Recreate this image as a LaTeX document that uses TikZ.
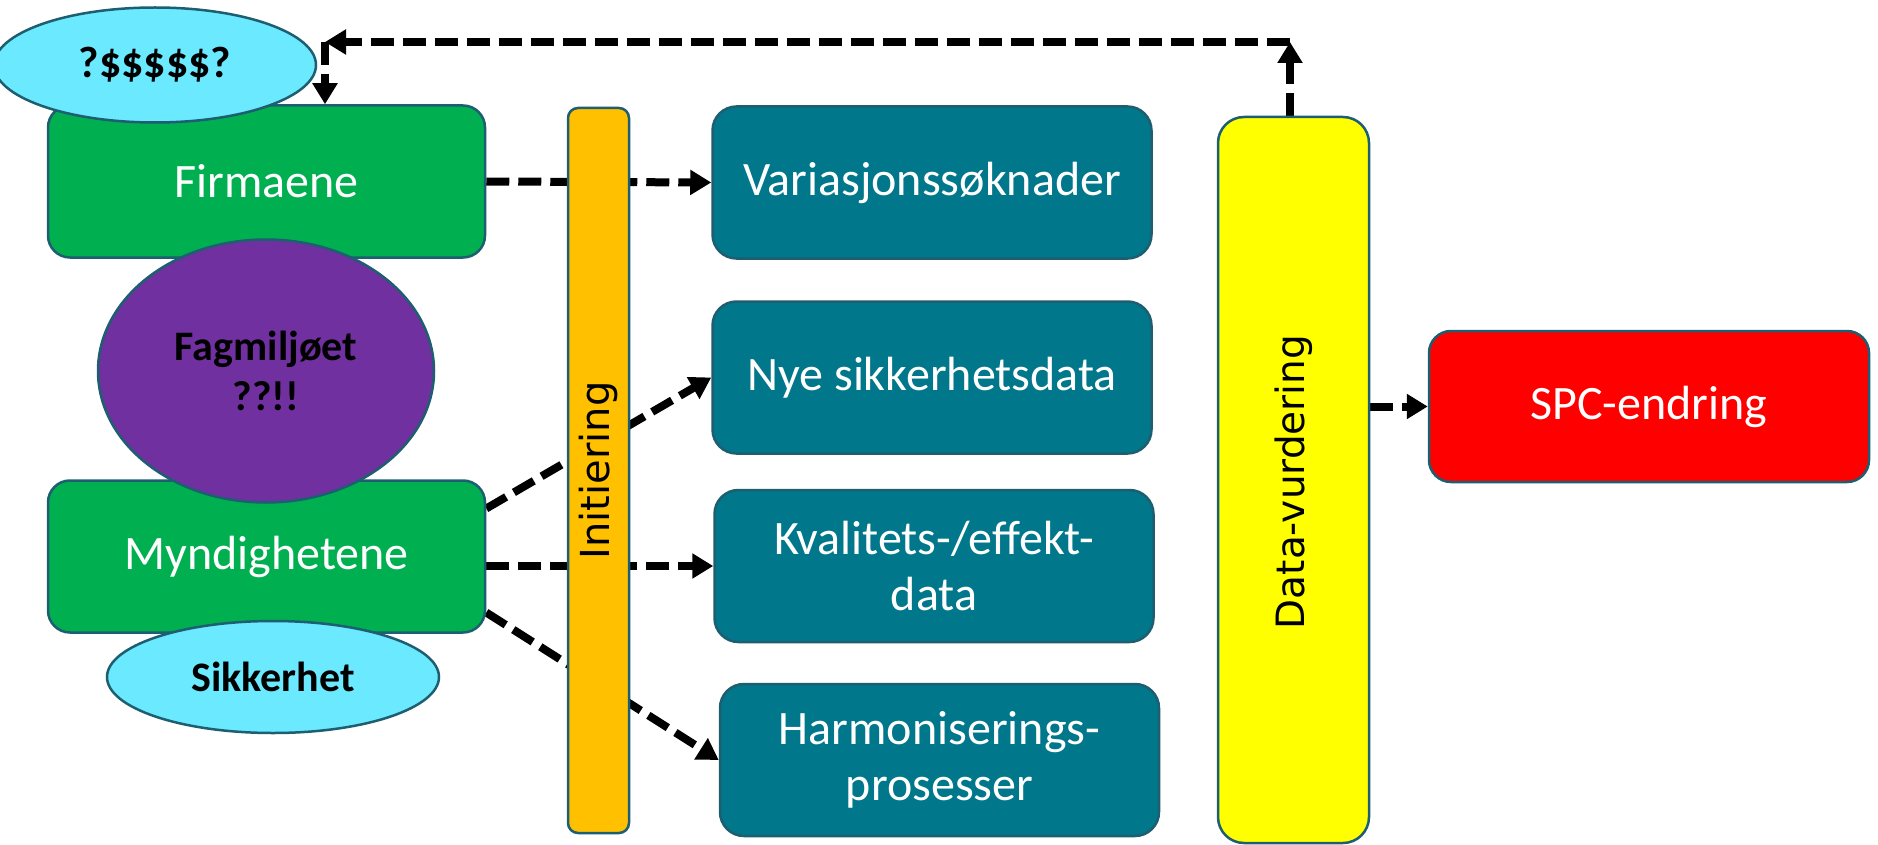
\documentclass[tikz,border=0pt]{standalone}
\usepackage{fontspec}
\setmainfont{Carlito}
\newfontfamily\barfont{DejaVu Sans}
\usetikzlibrary{arrows.meta,shapes.geometric,backgrounds}
\definecolor{bordc}{HTML}{1D5E70}
\definecolor{grn}{HTML}{00B050}
\definecolor{purp}{HTML}{7030A0}
\definecolor{cyanl}{HTML}{6BE9FF}
\definecolor{tealb}{HTML}{00778A}
\definecolor{orng}{HTML}{FFC000}
\definecolor{yell}{HTML}{FFFF00}
\definecolor{redb}{HTML}{FF0000}
\tikzset{
  base/.style={draw=bordc, line width=2.5pt, inner sep=0pt, align=center},
  gbox/.style={base, rectangle, rounded corners=22pt, fill=grn, text=white,
    minimum width=437pt, minimum height=152pt, font=\fontsize{48}{56}\selectfont},
  tbox/.style={base, rectangle, rounded corners=24pt, fill=tealb, text=white,
    minimum width=439pt, minimum height=152pt, font=\fontsize{48}{56}\selectfont},
  ell/.style={base, ellipse, text=black, font=\bfseries\fontsize{42}{50}\selectfont},
  barbox/.style={base, rectangle, text=black},
  bartext/.style={rotate=90, inner sep=0pt, font=\barfont\fontsize{39}{46}\selectfont},
  conn/.style={line width=8pt, dash pattern=on 23pt off 9pt, draw=black,
    -{Triangle[length=21pt,width=24pt]}},
}
\begin{document}
\begin{tikzpicture}[x=1pt,y=-1pt]
\useasboundingbox (0,0) rectangle (1878,845);
% nodes
\node[gbox] (firm) at (266.5,181.5) {Firmaene};
\node[gbox] (mynd) at (266.5,556.5) {Myndighetene};
\node[ell, fill=cyanl, minimum width=322pt, minimum height=115pt, font=\bfseries\fontsize{44}{50}\selectfont] (money) at (155,65) {?\$\$\$\$\$?};
\node[ell, fill=purp, minimum width=336pt, minimum height=263pt] (fag) at (266,371) {Fagmiljøet\\??!!};
\node[ell, fill=cyanl, minimum width=332pt, minimum height=112pt] (sik) at (273,677) {Sikkerhet};
\node[tbox] (var) at (932,182.5) {Variasjonssøknader};
\node[tbox] (nye) at (932,377.5) {Nye sikkerhetsdata};
\node[tbox] (kval) at (934,566) {Kvalitets-/effekt-\\data};
\node[tbox] (harm) at (939.5,760) {Harmoniserings-\\prosesser};
\node[gbox, fill=redb, minimum width=440pt, minimum height=151pt] (spc) at (1649,406.5) {SPC-endring};
\node[barbox, fill=orng, rounded corners=10pt, minimum width=61pt, minimum height=725pt] (init) at (598.5,470.5) {};
\node[bartext, font=\barfont\fontsize{40}{46}\selectfont] (initt) at (init.center) {Initiering};
\node[barbox, fill=yell, rounded corners=26pt, minimum width=151pt, minimum height=726pt] (dv) at (1293.5,480) {};
\node[bartext] (dvt) at (1293.5,482) {Data-vurdering};
\coordinate (top) at (325,42);
\coordinate (topr) at (1290,42);
% connectors
\begin{scope}[on background layer]
\draw[conn] (firm.east) -- (var.west);
\draw[conn] ([yshift=48pt]mynd.east) -- (nye.west);
\draw[conn] (mynd.east |- kval.west) -- (kval.west);
\draw[conn] ([yshift=-56pt]mynd.east) -- (harm.west);
\draw[conn] (dv.east |- spc.west) -- (spc.west);
\draw[conn] (topr |- dv.north) -- (topr);
\draw[conn] (topr) -- (top);
\draw[conn] (top) -- (top |- firm.north);
\end{scope}
\end{tikzpicture}
\end{document}
